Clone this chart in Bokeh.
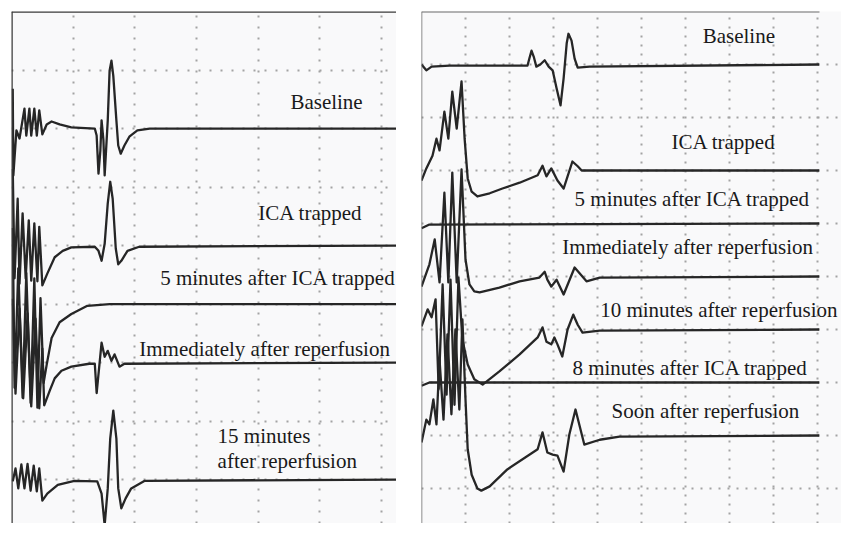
from bokeh.plotting import figure
from bokeh.layouts import row
from bokeh.models import Range1d, FixedTicker, Span, Label
from bokeh.embed import file_html
from bokeh.resources import INLINE

# ---------------- data (x in grid divisions, v = deflection in divisions) ----------------
# Left recording
left_names = ["Baseline", "ICA trapped", "5 minutes after ICA trapped",
              "Immediately after reperfusion", "15 minutes after reperfusion"]
left_offsets = [7, 5, 4, 3, 1]

l_base_t = [0.02, 0.03, 0.08, 0.13, 0.21, 0.24, 0.29, 0.32, 0.37, 0.41, 0.45, 0.50, 0.57, 0.65, 0.78, 0.97,
            1.35, 1.38, 1.41, 1.44, 1.46, 1.49, 1.51, 1.56, 1.59, 1.62, 1.65, 1.70, 1.73, 1.77, 1.83, 1.91,
            2.04, 2.24, 6.30]
l_base_v = [0.68, -0.80, -0.03, -0.17, 0.34, -0.12, 0.34, -0.12, 0.34, -0.12, 0.31, -0.10, 0.07, 0.12, 0.07, 0.02,
            0.0, -0.12, -0.77, -0.38, 0.14, -0.20, -0.80, 0.14, 0.99, 1.16, 0.90, 0.14, -0.29, -0.43, -0.29, -0.14,
            -0.03, 0.0, 0.0]

l_ica_t = [0.02, 0.05, 0.10, 0.13, 0.18, 0.23, 0.28, 0.32, 0.37, 0.42, 0.45, 0.50, 0.58, 0.70, 0.83, 0.97,
           1.35, 1.41, 1.46, 1.51, 1.56, 1.60, 1.64, 1.69, 1.73, 1.78, 1.88, 2.07, 6.30]
l_ica_v = [1.31, -0.56, 0.80, -0.65, 0.55, -0.56, 0.43, -0.60, 0.38, -0.61, 0.32, -0.68, -0.48, -0.20, -0.09, -0.03,
           -0.02, -0.09, -0.26, 0.03, 0.72, 1.09, 0.80, -0.05, -0.32, -0.26, -0.09, -0.02, 0.0]

l_5min_t = [0.02, 0.05, 0.11, 0.18, 0.24, 0.31, 0.37, 0.42, 0.47, 0.52, 0.57, 0.65, 0.78, 0.97, 1.23, 1.59, 6.30]
l_5min_v = [1.30, -1.43, 0.61, -1.60, 0.53, -1.69, 0.44, -1.77, 0.10, -1.35, -1.04, -0.58, -0.31, -0.17, -0.03, 0.0, 0.0]

l_imm_t = [0.02, 0.065, 0.13, 0.19, 0.26, 0.32, 0.39, 0.45, 0.50, 0.53, 0.62, 0.70, 0.81, 0.97, 1.26, 1.35,
           1.38, 1.46, 1.51, 1.56, 1.62, 1.67, 1.75, 1.83, 6.30]
l_imm_v = [1.09, -0.53, 0.92, -0.61, 0.84, -0.75, 0.75, -0.78, 0.24, -0.73, -0.48, -0.27, -0.14, -0.07, -0.02, -0.02,
           -0.52, 0.34, 0.10, 0.20, 0.03, 0.14, -0.07, -0.02, 0.0]

l_15min_t = [0.02, 0.065, 0.11, 0.16, 0.21, 0.26, 0.31, 0.36, 0.41, 0.45, 0.50, 0.58, 0.75, 1.02, 1.39, 1.46,
             1.51, 1.56, 1.60, 1.65, 1.70, 1.73, 1.78, 1.85, 1.94, 2.16, 6.30]
l_15min_v = [-0.03, 0.19, -0.15, 0.26, -0.15, 0.27, -0.19, 0.24, -0.20, 0.19, -0.36, -0.24, -0.09, -0.02, -0.03, -0.24,
             -0.78, -0.15, 0.70, 1.18, 0.70, -0.15, -0.49, -0.32, -0.15, -0.02, 0.0]

# Right recording
right_names = ["Baseline", "ICA trapped", "5 minutes after ICA trapped", "Immediately after reperfusion",
               "10 minutes after reperfusion", "8 minutes after ICA trapped", "Soon after reperfusion"]
right_offsets = [9, 7, 6, 5, 4, 3, 2]

r_base_t = [0.0, 0.11, 0.23, 0.64, 2.41, 2.45, 2.50, 2.55, 2.61, 2.70, 2.80, 2.89, 2.98, 3.07, 3.16, 3.23,
            3.30, 3.34, 3.41, 3.48, 3.55, 3.82, 9.04]
r_base_v = [0.0, -0.11, -0.04, -0.02, -0.02, 0.11, 0.26, 0.15, -0.04, 0.0, 0.08, -0.04, -0.11, -0.45, -0.77, -0.26,
            0.40, 0.58, 0.45, 0.11, -0.06, -0.04, 0.0]

r_ica_t = [0.0, 0.11, 0.25, 0.34, 0.41, 0.52, 0.61, 0.70, 0.80, 0.91, 0.98, 1.05, 1.14, 1.27, 1.55, 1.84,
           2.23, 2.64, 2.75, 2.84, 2.95, 3.09, 3.23, 3.32, 3.43, 3.55, 3.64, 9.04]
r_ica_v = [-0.19, 0.04, 0.28, 0.60, 0.38, 1.11, 0.60, 1.49, 0.79, 1.68, 0.60, -0.15, -0.40, -0.49, -0.43, -0.34,
           -0.23, -0.09, 0.09, -0.11, 0.04, -0.19, -0.34, -0.11, 0.17, 0.08, 0.0, 0.0]

r_5min_t = [0.0, 0.18, 9.04]
r_5min_v = [-0.09, -0.02, 0.0]

r_imm_t = [0.0, 0.18, 0.30, 0.41, 0.52, 0.61, 0.70, 0.80, 0.91, 1.00, 1.09, 1.20, 1.32, 1.77, 2.23, 2.68,
           2.80, 2.86, 2.95, 3.07, 3.23, 3.48, 3.75, 4.05, 9.04]
r_imm_v = [-0.19, 0.23, 0.70, -0.11, 1.58, -0.11, 1.96, -0.11, 2.02, 0.32, -0.15, -0.28, -0.30, -0.21, -0.09, -0.02,
           0.09, -0.06, -0.19, -0.06, -0.34, 0.17, -0.09, -0.02, 0.0]

r_10min_t = [0.0, 0.14, 0.23, 0.32, 0.39, 0.48, 0.57, 0.66, 0.75, 0.84, 0.93, 1.05, 1.20, 1.39, 1.77, 2.23,
             2.64, 2.75, 2.84, 2.95, 3.02, 3.09, 3.20, 3.32, 3.45, 3.55, 3.66, 4.05, 9.04]
r_10min_v = [0.06, 0.38, 0.23, 0.57, -1.13, 0.85, -1.23, 0.94, -1.42, 0.98, -0.19, -0.66, -0.94, -1.04, -0.79, -0.47,
             -0.15, 0.04, -0.23, -0.28, -0.15, -0.28, -0.51, 0.0, 0.28, 0.09, -0.06, -0.02, 0.0]

r_8min_t = [0.0, 0.18, 9.04]
r_8min_v = [-0.06, 0.0, 0.0]

r_soon_t = [0.0, 0.11, 0.18, 0.27, 0.34, 0.41, 0.50, 0.59, 0.68, 0.77, 0.86, 0.93, 1.00, 1.05, 1.14, 1.27,
            1.36, 1.55, 1.95, 2.64, 2.75, 2.86, 2.98, 3.09, 3.23, 3.36, 3.50, 3.70, 4.05, 4.50, 9.04]
r_soon_v = [-0.13, 0.30, 0.21, 0.68, 0.21, 1.43, 0.30, 1.91, 0.40, 2.00, 0.49, 2.19, 0.68, -0.26, -0.74, -1.00,
            -1.04, -0.96, -0.64, -0.26, 0.06, -0.32, -0.36, -0.38, -0.68, 0.02, 0.49, -0.17, -0.08, -0.02, 0.0]

left_traces = [(l_base_t, l_base_v), (l_ica_t, l_ica_v), (l_5min_t, l_5min_v),
               (l_imm_t, l_imm_v), (l_15min_t, l_15min_v)]
right_traces = [(r_base_t, r_base_v), (r_ica_t, r_ica_v), (r_5min_t, r_5min_v), (r_imm_t, r_imm_v),
                (r_10min_t, r_10min_v), (r_8min_t, r_8min_v), (r_soon_t, r_soon_v)]

# label texts and their placements (data units)
left_labels = ["Baseline", "ICA trapped", "5 minutes after ICA trapped",
               "Immediately after reperfusion", "15 minutes", "after reperfusion"]
left_label_x = [4.52, 4.00, 2.41, 2.07, 3.34, 3.34]
left_label_y = [7.46, 5.56, 4.44, 3.23, 1.74, 1.31]

right_labels = right_names
right_label_x = [6.39, 5.68, 3.48, 3.20, 4.06, 3.43, 4.32]
right_label_y = [9.53, 7.53, 6.47, 5.55, 4.36, 3.28, 2.47]

# panel extents (divisions)
LEFT_X_END = 6.24
RIGHT_PANEL_END = 9.045

# ---------------- styling ----------------
TRACE = "#262626"
FONT = "Liberation Serif"
BG = "#f9f9fa"


def make_panel(width, x_end, y_start, y_end, left_b, right_b, top_b, xt, yt, dash):
    p = figure(width=width, height=523, output_backend="svg", toolbar_location=None,
               x_axis_location=None, y_axis_location=None,
               x_range=Range1d(0, x_end), y_range=Range1d(y_start, y_end),
               min_border_left=left_b, min_border_right=right_b,
               min_border_top=top_b, min_border_bottom=0)
    p.outline_line_color = None
    p.background_fill_color = BG
    p.border_fill_color = "white"
    p.xgrid.ticker = FixedTicker(ticks=xt)
    p.ygrid.ticker = FixedTicker(ticks=yt)
    for g in (p.xgrid, p.ygrid):
        g.grid_line_color = "#a3a3a3"
        g.grid_line_width = 2
        g.grid_line_dash = dash
    return p


# left panel: frame 385 px wide (12 -> 397)
p1 = make_panel(396, LEFT_X_END, 0.25, 9.0, 11, 0, 10, [1, 2, 3, 4, 5, 6], [1, 2, 3, 4, 5, 6, 7, 8], "2 9")
p1.add_layout(Span(location=9.0, dimension="width", line_color="#3a3a3a", line_width=2.5))
p1.add_layout(Span(location=0, dimension="height", line_color="#3a3a3a", line_width=2.5))

for (t, v), off in zip(left_traces, left_offsets):
    p1.line(t, [off + a for a in v], line_color=TRACE, line_width=2.3, line_join="round")

for txt, x, y in zip(left_labels, left_label_x, left_label_y):
    p1.add_layout(Label(x=x, y=y, text=txt, text_font=FONT, text_font_size="21px",
                        text_color="#1a1a1a", text_baseline="alphabetic", text_align="left"))

# right panel: 44 px per division, frame runs to the page edge so the long label fits
p2 = make_panel(445, 420 / 44.0, 0.34, 10.0, 25, 0, 11, [1, 2, 3, 4, 5, 6, 7, 8, 9],
                [1, 2, 3, 4, 5, 6, 7, 8, 9], "2 7")
p2.segment(x0=[0], y0=[10.0], x1=[RIGHT_PANEL_END], y1=[10.0], line_color="#6a6a6a", line_width=2)
p2.add_layout(Span(location=0, dimension="height", line_color="#6a6a6a", line_width=1.5))

for (t, v), off in zip(right_traces, right_offsets):
    p2.line(t, [off + a for a in v], line_color=TRACE, line_width=2.3, line_join="round")

for txt, x, y in zip(right_labels, right_label_x, right_label_y):
    p2.add_layout(Label(x=x, y=y, text=txt, text_font=FONT, text_font_size="21px",
                        text_color="#1a1a1a", text_baseline="alphabetic", text_align="left"))

layout = row(p1, p2)
open("out.html", "w").write(file_html(layout, INLINE))
